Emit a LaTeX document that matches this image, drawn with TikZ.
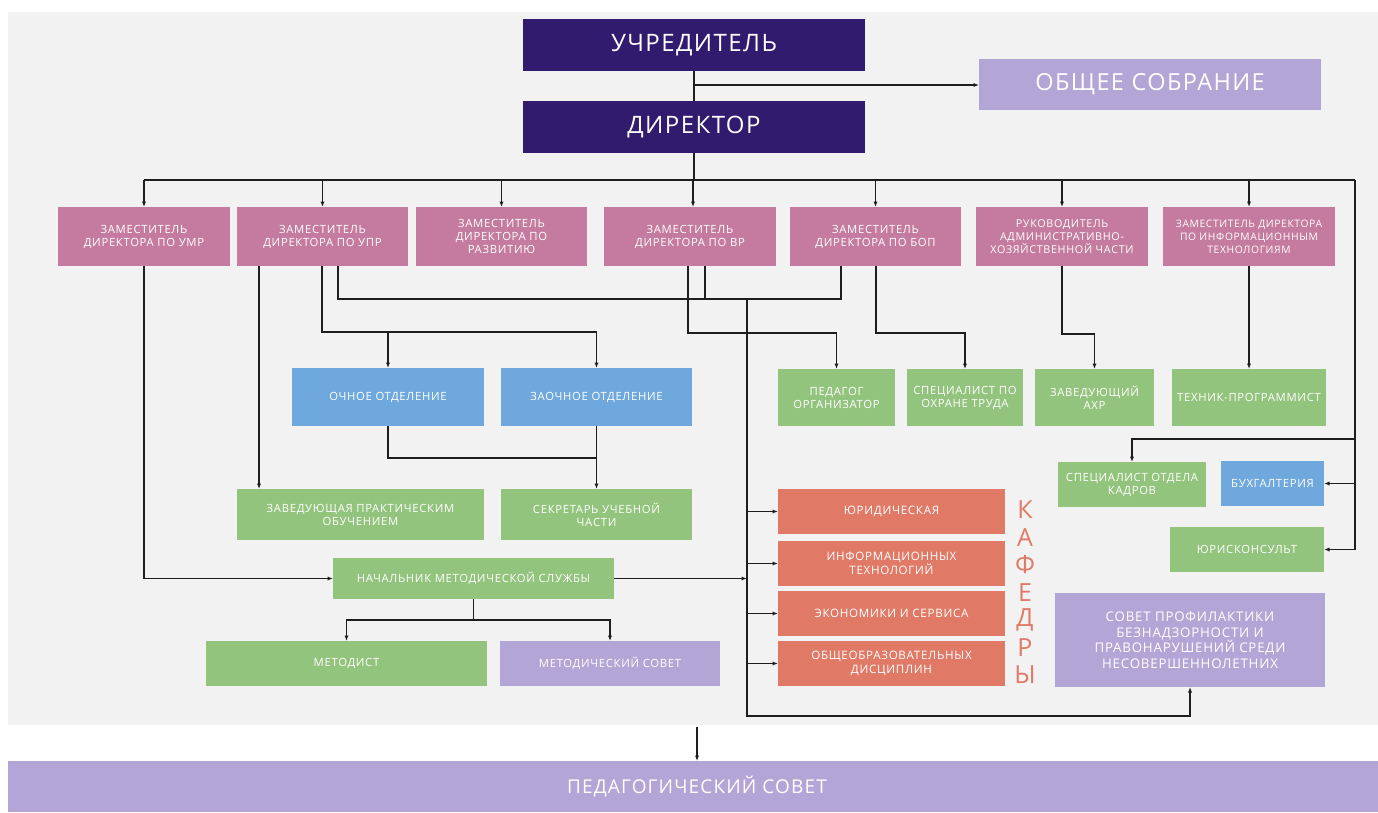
\documentclass[tikz,border=0pt]{standalone}
\usepackage{fontspec}
\setmainfont{Open Sans}[LetterSpace=6]
\usetikzlibrary{arrows.meta}
\definecolor{panel}{RGB}{242,242,242}
\definecolor{dpurple}{RGB}{49,27,110}
\definecolor{lav}{RGB}{179,166,214}
\definecolor{pinkc}{RGB}{196,123,159}
\definecolor{bluec}{RGB}{111,168,220}
\definecolor{greenc}{RGB}{147,196,125}
\definecolor{salmon}{RGB}{224,122,102}
\definecolor{linec}{RGB}{30,30,30}
\begin{document}
\begin{tikzpicture}[x=1pt,y=-1pt,
  box/.style={inner sep=0pt, outer sep=0pt, text=white, align=center, font=\fontsize{11.3}{13}\selectfont},
  bx/.style 2 args={minimum width=#1pt, minimum height=#2pt},
  conn/.style={draw=linec, line width=1.2pt},
  arr/.style={conn, -{Latex[length=5.5pt,width=4.2pt]}},
  letter/.style={text=salmon, font=\fontsize{25}{25}\selectfont, inner sep=0pt}
]
\useasboundingbox (0,0) rectangle (1378,812);
\fill[white] (0,0) rectangle (1378,812);
\fill[panel] (8,12) rectangle (1378,725);

% top
\node[box, fill=dpurple, bx={342}{52}, font=\fontsize{24}{28}\selectfont] (uch) at (694,45) {УЧРЕДИТЕЛЬ};
\node[box, fill=dpurple, bx={342}{52}, font=\fontsize{24}{28}\selectfont] (dir) at (694,127) {ДИРЕКТОР};
\node[box, fill=lav, bx={342}{51}, font=\fontsize{23.5}{26}\selectfont] (obs) at (1150,84.5) {ОБЩЕЕ СОБРАНИЕ};

% deputies
\node[box, fill=pinkc, bx={172}{59}] (d1) at (144,236.5) {ЗАМЕСТИТЕЛЬ\\ДИРЕКТОРА ПО УМР};
\node[box, fill=pinkc, bx={171}{59}] (d2) at (322.5,236.5) {ЗАМЕСТИТЕЛЬ\\ДИРЕКТОРА ПО УПР};
\node[box, fill=pinkc, bx={171}{59}] (d3) at (501.5,236.5) {ЗАМЕСТИТЕЛЬ\\ДИРЕКТОРА ПО\\РАЗВИТИЮ};
\node[box, fill=pinkc, bx={172}{59}] (d4) at (690,236.5) {ЗАМЕСТИТЕЛЬ\\ДИРЕКТОРА ПО ВР};
\node[box, fill=pinkc, bx={171}{59}] (d5) at (875.5,236.5) {ЗАМЕСТИТЕЛЬ\\ДИРЕКТОРА ПО БОП};
\node[box, fill=pinkc, bx={172}{59}, font=\fontsize{10.8}{13}\selectfont] (d6) at (1062,236.5) {РУКОВОДИТЕЛЬ\\АДМИНИСТРАТИВНО-\\ХОЗЯЙСТВЕННОЙ ЧАСТИ};
\node[box, fill=pinkc, bx={172}{59}, font=\fontsize{10.3}{13}\selectfont] (d7) at (1249,236.5) {ЗАМЕСТИТЕЛЬ ДИРЕКТОРА\\ПО ИНФОРМАЦИОННЫМ\\ТЕХНОЛОГИЯМ};

% second row
\node[box, fill=bluec, bx={192}{58}] (och) at (388,397) {ОЧНОЕ ОТДЕЛЕНИЕ};
\node[box, fill=bluec, bx={191}{58}] (zaoch) at (596.5,397) {ЗАОЧНОЕ ОТДЕЛЕНИЕ};
\node[box, fill=greenc, bx={117}{57}] (pedorg) at (836.5,397.5) {ПЕДАГОГ\\ОРГАНИЗАТОР};
\node[box, fill=greenc, bx={116}{57}] (ohrana) at (965,397.5) {СПЕЦИАЛИСТ ПО\\ОХРАНЕ ТРУДА};
\node[box, fill=greenc, bx={119}{57}] (ahr) at (1094.5,397.5) {ЗАВЕДУЮЩИЙ\\АХР};
\node[box, fill=greenc, bx={154}{57}] (tech) at (1249,397.5) {ТЕХНИК-ПРОГРАММИСТ};

% third row
\node[box, fill=greenc, bx={247}{51}] (zavpr) at (360.5,514.5) {ЗАВЕДУЮЩАЯ ПРАКТИЧЕСКИМ\\ОБУЧЕНИЕМ};
\node[box, fill=greenc, bx={191}{51}] (secr) at (596.5,514.5) {СЕКРЕТАРЬ УЧЕБНОЙ\\ЧАСТИ};
\node[box, fill=greenc, bx={148}{45}] (kadry) at (1132,484.5) {СПЕЦИАЛИСТ ОТДЕЛА\\КАДРОВ};
\node[box, fill=bluec, bx={103}{45}] (buh) at (1272.5,483.5) {БУХГАЛТЕРИЯ};
\node[box, fill=greenc, bx={154}{45}] (jur) at (1247,549.5) {ЮРИСКОНСУЛЬТ};

% kafedry
\node[box, fill=salmon, bx={227}{45}, font=\fontsize{11.6}{13.5}\selectfont] (kaf1) at (891.5,511.5) {ЮРИДИЧЕСКАЯ};
\node[box, fill=salmon, bx={227}{45}, font=\fontsize{11.6}{13.5}\selectfont] (kaf2) at (891.5,563.5) {ИНФОРМАЦИОННЫХ\\ТЕХНОЛОГИЙ};
\node[box, fill=salmon, bx={227}{45}, font=\fontsize{11.6}{13.5}\selectfont] (kaf3) at (891.5,613.5) {ЭКОНОМИКИ И СЕРВИСА};
\node[box, fill=salmon, bx={227}{45}, font=\fontsize{11.6}{13.5}\selectfont] (kaf4) at (891.5,663.5) {ОБЩЕОБРАЗОВАТЕЛЬНЫХ\\ДИСЦИПЛИН};
\node[letter] (lk) at (1025,510) {К};
\node[letter] (la) at (1025,537.5) {А};
\node[letter] (lf) at (1025,565) {Ф};
\node[letter] (le) at (1025,592.5) {Е};
\node[letter] (ld) at (1025,620) {Д};
\node[letter] (lr) at (1025,647.5) {Р};
\node[letter] (ly) at (1025,675) {Ы};

% methodical
\node[box, fill=greenc, bx={281}{41}] (nach) at (473.5,578.5) {НАЧАЛЬНИК МЕТОДИЧЕСКОЙ СЛУЖБЫ};
\node[box, fill=greenc, bx={281}{45}] (metodist) at (346.5,663.5) {МЕТОДИСТ};
\node[box, fill=lav, bx={220}{45}] (metsovet) at (610,663.5) {МЕТОДИЧЕСКИЙ СОВЕТ};
\node[box, fill=lav, bx={270}{94}, font=\fontsize{13.3}{15.5}\selectfont] (sov) at (1190,640) {СОВЕТ ПРОФИЛАКТИКИ\\БЕЗНАДЗОРНОСТИ И\\ПРАВОНАРУШЕНИЙ СРЕДИ\\НЕСОВЕРШЕННОЛЕТНИХ};

% bottom
\node[box, fill=lav, bx={1370}{51}] (ped) at (693,786.5) {};
\node[text=white, inner sep=0pt, font=\fontsize{19}{22}\selectfont] (pedt) at (697,786.5) {ПЕДАГОГИЧЕСКИЙ СОВЕТ};

% ---------- connectors ----------
\coordinate (b0) at (694,85);
\draw[conn] (uch.south) -- (dir.north);
\draw[arr] (b0) -- (obs.west |- b0);

\coordinate (bus) at (694,180);
\coordinate (busL) at (144,180);
\coordinate (busR) at (1355,180);
\draw[conn] (dir.south) -- (bus);
\draw[conn] (busL) -- (busR);
\foreach \n in {d1,d2,d3,d5,d6,d7} \draw[arr] (\n.north |- bus) -- (\n.north);
\coordinate (d4t) at (693,207);
\draw[arr] (d4t |- bus) -- (d4t);

% right side
\coordinate (k0) at (1355,439);
\draw[arr] (busR) |- (jur.east);
\draw[arr] (busR |- buh.east) -- (buh.east);
\draw[arr] (k0) -| (kadry.north);

% УМР
\draw[arr] (d1.south) |- (nach.west);

% УПР
\coordinate (u1) at (259,266);
\draw[arr] (u1) -- (u1 |- zavpr.north);
\coordinate (h1) at (322,332);
\draw[conn] (h1 |- d2.south) -- (h1) -- (h1 -| zaoch.north);
\draw[arr] (h1 -| och.north) -- (och.north);
\draw[arr] (h1 -| zaoch.north) -- (zaoch.north);
\coordinate (u3) at (338,266);
\coordinate (h2) at (338,299);
\coordinate (h2e) at (841,299);
\coordinate (v3) at (841,266);
\draw[conn] (u3) -- (h2) -- (h2e) -- (v3);

% ВР
\coordinate (v1) at (688,266);
\coordinate (h3) at (688,333);
\draw[arr] (v1) -- (h3) -| (pedorg.north);
\coordinate (v2) at (705,266);
\draw[conn] (v2) -- (v2 |- h2);

% БОП
\coordinate (v4) at (876,266);
\coordinate (h4) at (876,333);
\draw[arr] (v4) -- (h4) -| (ohrana.north);

% АХЧ
\coordinate (h5) at (1062,334);
\draw[arr] (d6.south) -- (h5) -| (ahr.north);

% ИТ
\draw[arr] (d7.south) -- (tech.north);

% vertical 747
\coordinate (k1) at (747,299);
\coordinate (k2) at (747,716);
\draw[arr] (k1) -- (k2) -| (sov.south);
\foreach \n in {kaf1,kaf2,kaf3,kaf4} \draw[arr] (k1 |- \n.west) -- (\n.west);
\draw[arr] (nach.east) -- (k1 |- nach.east);

% отделения
\coordinate (h6) at (596.5,458);
\draw[conn] (och.south) |- (h6);
\draw[arr] (zaoch.south) -- (secr.north);

% методическая служба
\coordinate (h7) at (473.5,620);
\draw[conn] (nach.south) -- (h7);
\draw[arr] (h7) -| (metodist.north);
\draw[arr] (h7) -| (metsovet.north);

% педсовет
\coordinate (p0) at (697,727);
\draw[arr] (p0) -- (p0 |- ped.north);
\end{tikzpicture}
\end{document}
